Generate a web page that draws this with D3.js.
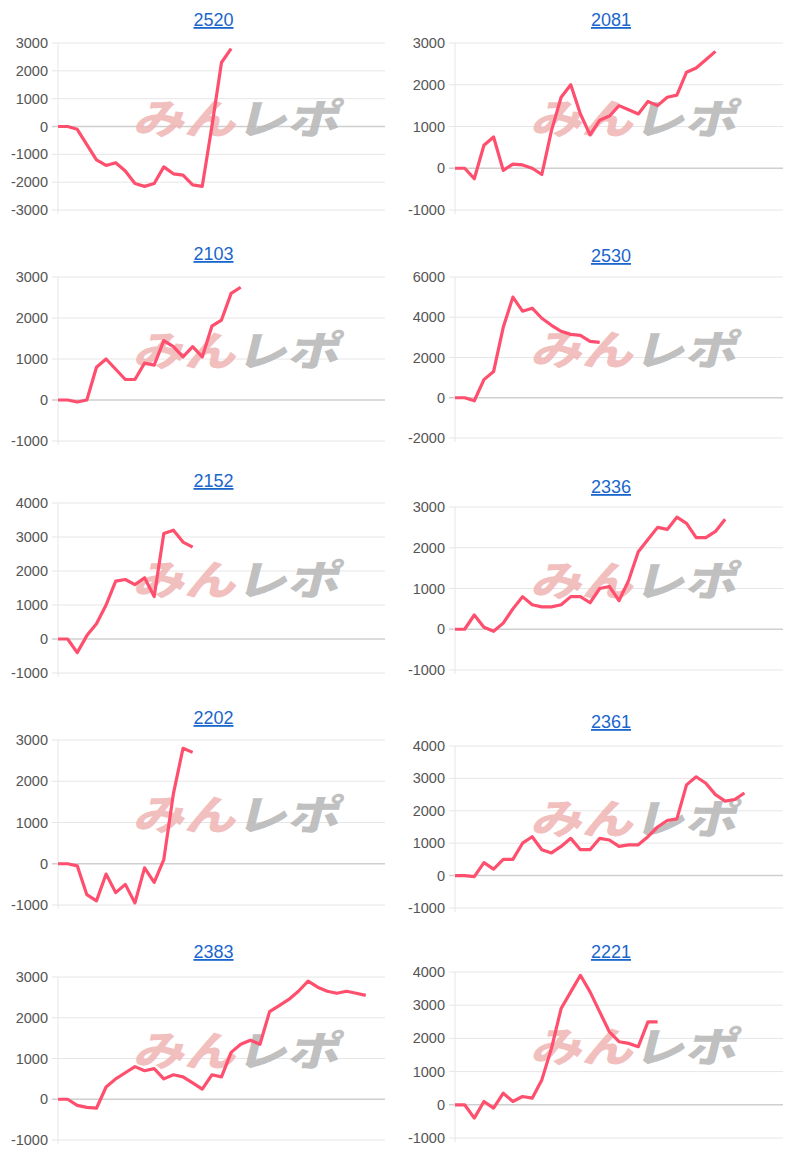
<!DOCTYPE html>
<html><head><meta charset="utf-8">
<script src="https://cdn.jsdelivr.net/npm/d3@7"></script>
<style>body{margin:0;background:#fff;font-family:"Liberation Sans",Arial,sans-serif}</style>
</head><body><svg id="c" width="800" height="1159"></svg>
<script>
// chart codes, in reading order
var codes = ["2520","2081","2103","2530","2152","2336","2202","2361","2383","2221"];

// y ticks per chart
var ticks = [
  [-3000,-2000,-1000,0,1000,2000,3000],
  [-1000,0,1000,2000,3000],
  [-1000,0,1000,2000,3000],
  [-2000,0,2000,4000,6000],
  [-1000,0,1000,2000,3000,4000],
  [-1000,0,1000,2000,3000],
  [-1000,0,1000,2000,3000],
  [-1000,0,1000,2000,3000,4000],
  [-1000,0,1000,2000,3000],
  [-1000,0,1000,2000,3000,4000]
];

var s2520 = [0,0,-100,-650,-1200,-1400,-1300,-1600,-2050,-2150,-2050,-1450,-1700,-1750,-2100,-2150,0,2300,2800];
var s2081 = [0,0,-250,550,750,-50,100,80,0,-150,900,1700,2000,1300,800,1150,1250,1500,1400,1300,1600,1500,1700,1750,2300,2400,2600,2800];
var s2103 = [0,0,-50,0,800,1000,750,500,500,900,850,1450,1300,1050,1300,1050,1800,1950,2600,2750];
var s2530 = [0,0,-150,900,1300,3500,5000,4300,4450,3950,3600,3300,3150,3100,2800,2750];
var s2152 = [0,0,-400,100,450,1000,1700,1750,1600,1800,1250,3100,3200,2850,2700];
var s2336 = [0,0,350,50,-50,150,500,800,600,550,550,600,800,800,650,1000,1050,700,1200,1900,2200,2500,2450,2750,2600,2250,2250,2400,2700];
var s2202 = [0,0,-50,-750,-900,-250,-700,-500,-950,-100,-450,100,1700,2800,2700];
var s2361 = [0,0,-30,400,200,500,500,1000,1200,800,700,900,1150,800,800,1150,1100,900,950,950,1200,1500,1700,1750,2800,3050,2850,2500,2300,2350,2550];
var s2383 = [0,0,-150,-200,-220,300,500,650,800,700,750,500,600,550,400,250,600,550,1150,1350,1450,1350,2150,2300,2450,2650,2900,2750,2650,2600,2650,2600,2550];
var s2221 = [0,0,-400,100,-100,350,100,250,200,750,1700,2900,3400,3900,3400,2800,2200,1900,1850,1750,2500,2500];
var series = [s2520,s2081,s2103,s2530,s2152,s2336,s2202,s2361,s2383,s2221];

// panel frames: [titleY, plotTop, plotBottom]
var frames = [[20,43,210],[20,43,210],[254,277,441],[256,277,438],[481,503,673],[487,507,670],[718,740,905],[722,746,908],[952,977,1140],[952,972,1138]];

var svg = d3.select("#c");
codes.forEach(function(code, i) {
  var col = i % 2, f = frames[i];
  var x0 = col ? 455 : 58, x1 = col ? 783 : 385;
  var g = svg.append("g");
  var x = d3.scaleLinear().domain([0, 34]).range([x0, x1]);
  var tk = ticks[i];
  var y = d3.scaleLinear().domain([tk[0], tk[tk.length-1]]).range([f[2], f[1]]);

  g.append("text").attr("x", (x0 + x1) / 2 - 8).attr("y", f[0] + 6).attr("text-anchor", "middle")
    .attr("font-size", 18).attr("fill", "#1a66cc").attr("text-decoration", "underline").text(code);

  g.selectAll("line.grid").data(tk).join("line")
    .attr("x1", x0 - 6).attr("x2", x1).attr("y1", d => y(d)).attr("y2", d => y(d))
    .attr("stroke", d => d === 0 ? "#cfcfcf" : "#e6e6e6").attr("stroke-width", d => d === 0 ? 1.5 : 1);
  g.append("line").attr("x1", x0).attr("x2", x0).attr("y1", f[1]).attr("y2", f[2] + 4).attr("stroke", "#e6e6e6");
  g.selectAll("text.tick").data(tk).join("text")
    .attr("x", x0 - 10).attr("y", d => y(d) + 5).attr("text-anchor", "end")
    .attr("font-size", 14.5).attr("fill", "#555").text(d => d);

  // watermark
  var cx = (x0 + x1) / 2 + 14, cy = (f[1] + f[2]) / 2 - 10;
  var wm = g.append("text").attr("transform", "translate(" + cx + "," + (cy + 17) + ") skewX(-14) scale(1.12,0.9)")
    .attr("text-anchor", "middle").attr("font-size", 46).attr("font-weight", "900")
    .attr("font-family", "'Noto Sans CJK JP',sans-serif");
  wm.append("tspan").attr("fill", "#f0b4b4").attr("fill-opacity", 0.85).text("みん");
  wm.append("tspan").attr("fill", "#b8b8b8").attr("fill-opacity", 0.9).text("レポ");

  g.append("path").datum(series[i]).attr("fill", "none").attr("stroke", "#ff4f6e")
    .attr("stroke-width", 3.2).attr("stroke-linejoin", "round")
    .attr("d", d3.line().x((d, j) => x(j)).y(d => y(d)));
});
</script></body></html>
